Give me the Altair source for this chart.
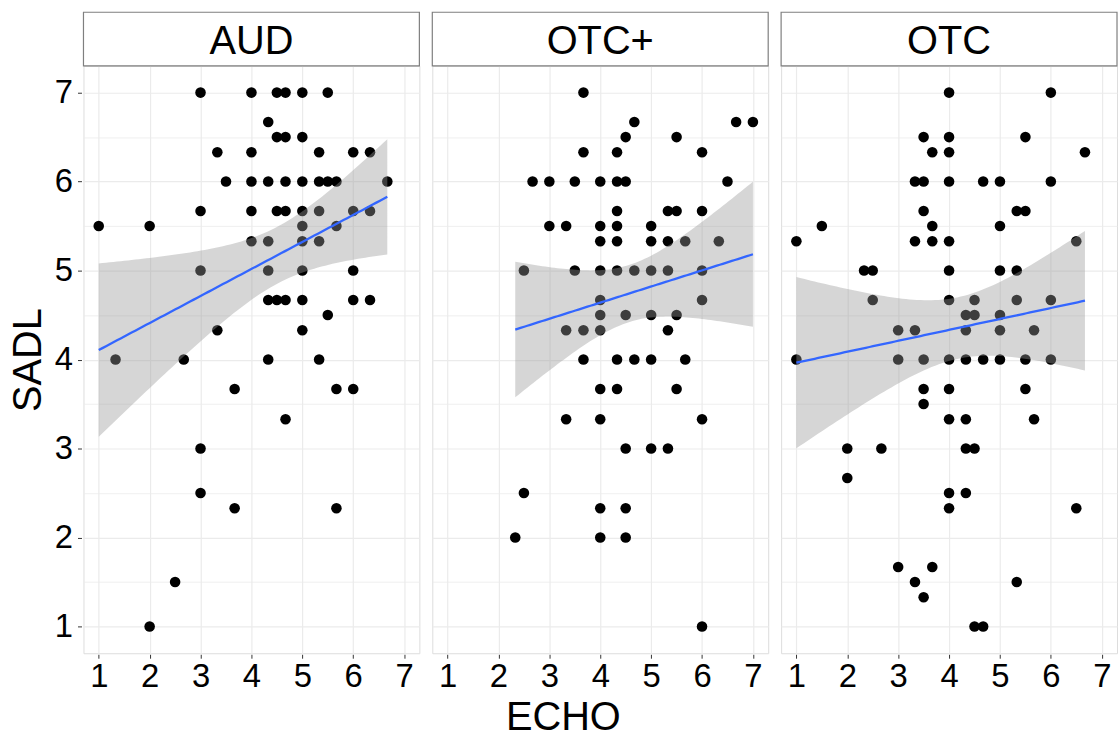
import altair as alt
import numpy as np
import pandas as pd

FONT = "Liberation Sans"
panels = ["AUD", "OTC+", "OTC"]

# ---- data (ECHO, SADL pairs per panel) ----
aud_echo = [3, 4, 4.5, 4.67, 5, 5.5,
            4.33,
            4.5, 4.67, 5,
            3.33, 4, 5.33, 6, 6.33,
            3.5, 4, 4.33, 4.67, 5, 5.33, 5.5, 5.67, 6.67,
            3, 4, 4.5, 4.67, 5, 5.33, 6, 6.33,
            1, 2, 5, 5.67,
            4, 4.33, 5, 5.33,
            3, 4.33, 5, 6,
            4.33, 4.5, 4.67, 5, 6, 6.33,
            5.5,
            3.33, 5,
            1.33, 2.67, 4.33, 5.33,
            3.67, 5.67, 6,
            4.67,
            3,
            3,
            3.67, 5.67,
            2.5,
            2]
aud_sadl = [7, 7, 7, 7, 7, 7,
            6.67,
            6.5, 6.5, 6.5,
            6.33, 6.33, 6.33, 6.33, 6.33,
            6, 6, 6, 6, 6, 6, 6, 6, 6,
            5.67, 5.67, 5.67, 5.67, 5.67, 5.67, 5.67, 5.67,
            5.5, 5.5, 5.5, 5.5,
            5.33, 5.33, 5.33, 5.33,
            5, 5, 5, 5,
            4.67, 4.67, 4.67, 4.67, 4.67, 4.67,
            4.5,
            4.33, 4.33,
            4, 4, 4, 4,
            3.67, 3.67, 3.67,
            3.33,
            3,
            2.5,
            2.33, 2.33,
            1.5,
            1]

otcp_echo = [3.67,
             4.67, 6.67, 7,
             4.5, 5.5,
             3.67, 4.33, 6,
             2.67, 3, 3.5, 4, 4.33, 4.5, 6.5,
             4.33, 5.33, 5.5, 6,
             3, 3.33, 4, 4.33, 5,
             4, 4.33, 5, 5.33, 5.67, 6.33,
             2.5, 3.5, 4, 4.33, 4.67, 5, 5.33, 6,
             4, 6,
             4, 4.5, 5, 5.5,
             3.33, 3.67, 4, 5.33,
             3.67, 4.33, 4.67, 5, 5.67,
             4, 4.33, 5.5,
             3.33, 4, 6,
             4.5, 5, 5.33,
             2.5,
             4, 4.5,
             2.33, 4, 4.5,
             6]
otcp_sadl = [7,
             6.67, 6.67, 6.67,
             6.5, 6.5,
             6.33, 6.33, 6.33,
             6, 6, 6, 6, 6, 6, 6,
             5.67, 5.67, 5.67, 5.67,
             5.5, 5.5, 5.5, 5.5, 5.5,
             5.33, 5.33, 5.33, 5.33, 5.33, 5.33,
             5, 5, 5, 5, 5, 5, 5, 5,
             4.67, 4.67,
             4.5, 4.5, 4.5, 4.5,
             4.33, 4.33, 4.33, 4.33,
             4, 4, 4, 4, 4,
             3.67, 3.67, 3.67,
             3.33, 3.33, 3.33,
             3, 3, 3,
             2.5,
             2.33, 2.33,
             2, 2, 2,
             1]

otc_echo = [4, 6,
            3.5, 4, 5.5,
            3.67, 4, 6.67,
            3.33, 3.5, 4, 4.67, 5, 6,
            3.5, 5.33, 5.5,
            1.5, 3.67, 5,
            1, 3.33, 3.67, 4, 6.5,
            2.33, 2.5, 4, 5, 5.33,
            2.5, 4, 4.5, 5.33, 6,
            4.33, 4.5, 5,
            3, 3.33, 4.33, 5, 5.67,
            1, 3, 3.5, 4, 4.33, 4.67, 5, 5.5, 6,
            3.5, 4, 5.5,
            3.5,
            4, 4.33, 5.67,
            2, 2.67, 4.33, 4.5,
            2,
            4, 4.33,
            4, 6.5,
            3, 3.67,
            3.33, 5.33,
            3.5,
            4.5, 4.67]
otc_sadl = [7, 7,
            6.5, 6.5, 6.5,
            6.33, 6.33, 6.33,
            6, 6, 6, 6, 6, 6,
            5.67, 5.67, 5.67,
            5.5, 5.5, 5.5,
            5.33, 5.33, 5.33, 5.33, 5.33,
            5, 5, 5, 5, 5,
            4.67, 4.67, 4.67, 4.67, 4.67,
            4.5, 4.5, 4.5,
            4.33, 4.33, 4.33, 4.33, 4.33,
            4, 4, 4, 4, 4, 4, 4, 4, 4,
            3.67, 3.67, 3.67,
            3.5,
            3.33, 3.33, 3.33,
            3, 3, 3, 3,
            2.67,
            2.5, 2.5,
            2.33, 2.33,
            1.67, 1.67,
            1.5, 1.5,
            1.33,
            1, 1]

x_ticks = [1, 2, 3, 4, 5, 6, 7]
y_ticks = [1, 2, 3, 4, 5, 6, 7]

series = {"AUD": (aud_echo, aud_sadl), "OTC+": (otcp_echo, otcp_sadl), "OTC": (otc_echo, otc_sadl)}


def t975(df):
    z = 1.959963985
    g1 = (z ** 3 + z) / 4
    g2 = (5 * z ** 5 + 16 * z ** 3 + 3 * z) / 96
    g3 = (3 * z ** 7 + 19 * z ** 5 + 17 * z ** 3 - 15 * z) / 384
    return z + g1 / df + g2 / df ** 2 + g3 / df ** 3


rows = []
for p in panels:
    xs, ys = series[p]
    for a, b in zip(xs, ys):
        rows.append({"panel": p, "kind": "pt", "ECHO": a, "SADL": b})
    x = np.array(xs, float)
    y = np.array(ys, float)
    n = len(x)
    xb, yb = x.mean(), y.mean()
    sxx = ((x - xb) ** 2).sum()
    slope = ((x - xb) * (y - yb)).sum() / sxx
    icpt = yb - slope * xb
    s = np.sqrt(((y - icpt - slope * x) ** 2).sum() / (n - 2))
    t = t975(n - 2)
    for g in np.linspace(x.min(), x.max(), 80):
        f = icpt + slope * g
        se = s * np.sqrt(1 / n + (g - xb) ** 2 / sxx)
        rows.append({"panel": p, "kind": "fit", "ECHO": g, "fit": f,
                     "lo": f - t * se, "hi": f + t * se})

df = pd.DataFrame(rows)

W, H = 338, 591
grid_vals = [v / 2 for v in range(2, 15)]
minor_test = "datum.value % 1 !== 0"
label_expr = "datum.value % 1 === 0 ? format(datum.value, 'd') : ''"

xscale = alt.Scale(domain=[0.7, 7.3], nice=False, zero=False)
yscale = alt.Scale(domain=[0.7, 7.3], nice=False, zero=False)

xaxis = alt.Axis(values=grid_vals, title=None, grid=True, gridColor="#ebebeb",
                 gridWidth={"condition": {"test": minor_test, "value": 0.8}, "value": 1.2},
                 labelExpr=label_expr,
                 labelFontSize=33, labelFont=FONT, labelColor="black",
                 labelPadding=2, labelFlush=False, labelOverlap=False,
                 tickColor="#333333", tickSize=4,
                 tickOpacity={"condition": {"test": minor_test, "value": 0}, "value": 1},
                 domain=False)
yaxis = alt.Axis(values=grid_vals, title="SADL", grid=True, gridColor="#ebebeb",
                 gridWidth={"condition": {"test": minor_test, "value": 0.8}, "value": 1.2},
                 labelExpr=label_expr,
                 labelFontSize=33, labelFont=FONT, labelColor="black",
                 labelPadding=5, labelFlush=False, labelOverlap=False,
                 tickColor="#333333", tickSize=4,
                 tickOpacity={"condition": {"test": minor_test, "value": 0}, "value": 1},
                 titleFontSize=40, titleFont=FONT, titleFontWeight="normal",
                 titleColor="black", titlePadding=6, domain=False)

base = alt.Chart().properties(width=W, height=H)

points = base.transform_filter("datum.kind === 'pt'").mark_circle(
    size=113, color="black", opacity=1
).encode(
    x=alt.X("ECHO:Q", scale=xscale, axis=xaxis),
    y=alt.Y("SADL:Q", scale=yscale, axis=yaxis),
)

band = base.transform_filter("datum.kind === 'fit'").mark_area(
    color="#999999", opacity=0.4, clip=True
).encode(
    x=alt.X("ECHO:Q", scale=xscale),
    y=alt.Y("lo:Q", scale=yscale),
    y2="hi:Q",
)

line = base.transform_filter("datum.kind === 'fit'").mark_line(
    color="#3366FF", strokeWidth=2.3, clip=True
).encode(
    x=alt.X("ECHO:Q", scale=xscale),
    y=alt.Y("fit:Q", scale=yscale),
)

strip_base = base.transform_filter("datum.kind === 'pt'").transform_aggregate(
    n="count()", groupby=["panel"]
)
strip_box = strip_base.mark_rect(fill="white", stroke="#7f7f7f", strokeWidth=1.2).encode(
    x=alt.value(0), x2=alt.value(W), y=alt.value(-54), y2=alt.value(0)
)
strip_text = strip_base.mark_text(
    fontSize=40, font=FONT, color="black", baseline="alphabetic", align="center"
).encode(
    text="panel:N", x=alt.value(W / 2), y=alt.value(-12)
)

layered = alt.layer(points, band, line, strip_box, strip_text)

chart = layered.facet(
    column=alt.Column("panel:N", sort=panels, header=alt.Header(title=None, labels=False)),
    data=df,
    spacing=9,
).properties(
    title=alt.TitleParams("ECHO", orient="bottom", anchor="middle", fontSize=40,
                          font=FONT, fontWeight="normal", color="black", offset=5),
    padding={"left": 8, "top": 8, "right": 0, "bottom": 0},
).configure_view(
    stroke="#333333", strokeWidth=1.2
).configure(background="white")

chart.save("out.html", embed_options={"renderer": "svg", "actions": False})
